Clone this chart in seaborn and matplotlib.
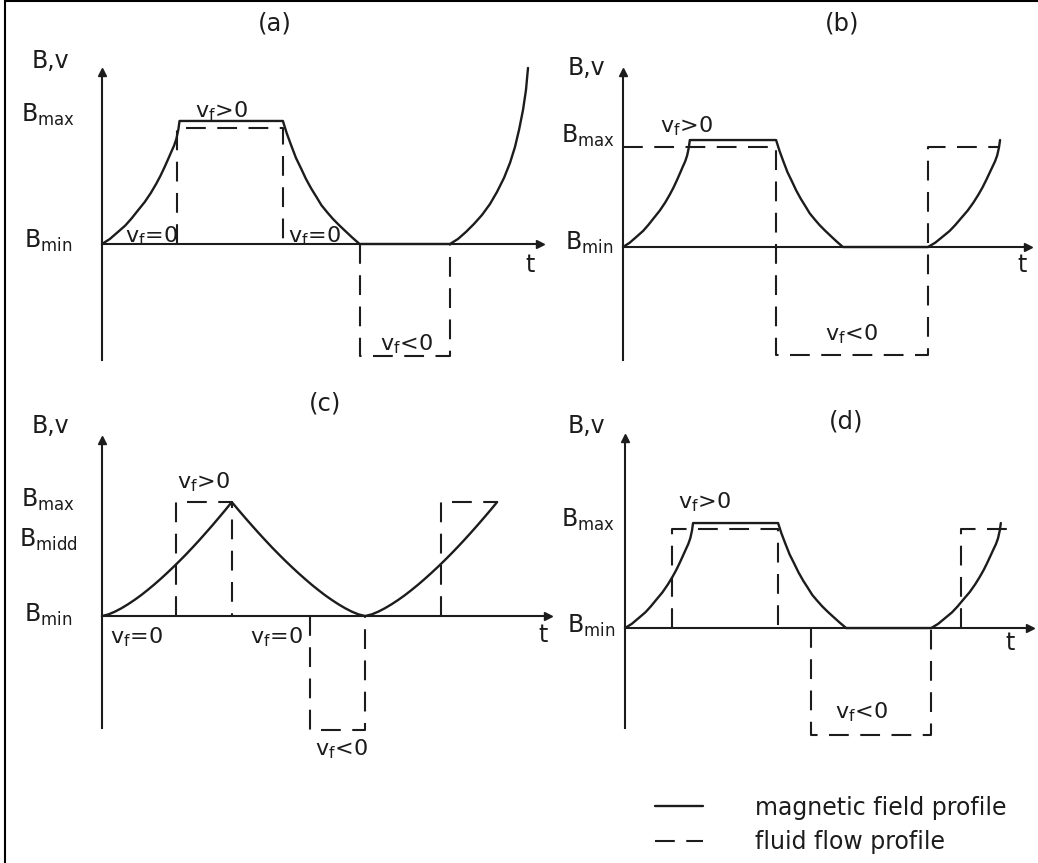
import numpy as np
import pandas as pd
import matplotlib
matplotlib.use("Agg")
import matplotlib.pyplot as plt
import seaborn as sns
from matplotlib.lines import Line2D

# ---------------- data (t in arbitrary time units, B and v normalised: Bmin = 0, Bmax = 1) ----------------
# panel (a)
a_field_t = [0, 1.77, 3.65, 5.31, 6.71, 8.14, 9.75, 11.15, 12.39, 13.36, 14.30, 15.05, 15.81, 16.46, 16.99, 17.43, 17.7,
             41.3, 42.18, 43.21, 44.28, 45.5, 46.55, 47.78, 49.0, 50.1, 51.36, 52.69, 54.08, 55.41, 57.05, 58.8,
             79.45, 81.28, 83.1, 84.93, 86.76, 88.58, 90.18, 91.78, 93.15, 94.29, 95.21, 96.12, 96.8, 97.26]
a_field_B = [0, 0.04, 0.098, 0.15, 0.206, 0.27, 0.341, 0.415, 0.49, 0.555, 0.626, 0.686, 0.748, 0.80, 0.856, 0.93, 1.0,
             1.0, 0.90, 0.80, 0.70, 0.61, 0.53, 0.45, 0.38, 0.315, 0.26, 0.205, 0.155, 0.11, 0.055, 0,
             0, 0.041, 0.098, 0.163, 0.236, 0.325, 0.423, 0.537, 0.659, 0.789, 0.927, 1.089, 1.252, 1.431]
a_flow_t = [17.1, 17.1, 41.3, 41.3, 58.9, 58.9, 79.5, 79.5]
a_flow_v = [0, 0.943, 0.943, 0, 0, -0.91, -0.91, 0]
a_flow_seg = [0, 0, 0, 0, 1, 1, 1, 1]

# panel (b)
b_field_t = [0, 1.65, 3.40, 4.95, 6.25, 7.59, 9.09, 10.40, 11.55, 12.46, 13.33, 14.03, 14.73, 15.35, 15.84, 16.25, 16.5,
             37.8, 38.63, 39.6, 40.61, 41.76, 42.75, 43.91, 45.06, 46.1, 47.29, 48.54, 49.85, 51.1, 52.65, 54.3,
             75.3, 77.08, 78.97, 80.64, 82.05, 83.49, 85.11, 86.51, 87.76, 88.74, 89.68, 90.43, 91.2, 91.85, 92.39,
             92.83, 93.1]
b_field_B = [0, 0.04, 0.098, 0.15, 0.206, 0.27, 0.341, 0.415, 0.49, 0.555, 0.626, 0.686, 0.748, 0.80, 0.856, 0.93, 1.0,
             1.0, 0.90, 0.80, 0.70, 0.61, 0.53, 0.45, 0.38, 0.315, 0.26, 0.205, 0.155, 0.11, 0.055, 0,
             0, 0.04, 0.098, 0.15, 0.206, 0.27, 0.341, 0.415, 0.49, 0.555, 0.626, 0.686, 0.748, 0.80, 0.856, 0.93, 1.0]
b_flow_t = [0, 37.8, 37.8, 75.3, 75.3, 92.6]
b_flow_v = [0.935, 0.935, -1.01, -1.01, 0.935, 0.935]
b_flow_seg = [0, 0, 0, 0, 0, 0]

# panel (c)
c_field_t = [0, 1.46, 2.91, 4.37, 5.82, 7.28, 8.73, 10.19, 11.64, 13.1, 14.55, 16.0, 17.46, 18.92, 20.37, 21.83,
             23.28, 24.74, 26.19, 27.65, 29.1,
             30.6, 32.09, 33.59, 35.08, 36.58, 38.07, 39.57, 41.06, 42.56, 44.05, 45.55, 47.04, 48.54, 50.03, 51.53,
             53.02, 54.52, 56.01, 57.51, 59.0,
             60.48, 61.96, 63.44, 64.92, 66.4, 67.88, 69.36, 70.84, 72.32, 73.8, 75.28, 76.76, 78.24, 79.72, 81.2,
             82.68, 84.16, 85.64, 87.12, 88.6]
c_field_B = [0, 0.0145, 0.0386, 0.0686, 0.103, 0.141, 0.182, 0.227, 0.274, 0.324, 0.376, 0.43, 0.486, 0.544, 0.604,
             0.666, 0.73, 0.795, 0.862, 0.93, 1.0,
             0.93, 0.862, 0.795, 0.73, 0.666, 0.604, 0.544, 0.486, 0.43, 0.376, 0.324, 0.274, 0.227, 0.182, 0.141,
             0.103, 0.0686, 0.0386, 0.0145, 0,
             0.0145, 0.0386, 0.0686, 0.103, 0.141, 0.182, 0.227, 0.274, 0.324, 0.376, 0.43, 0.486, 0.544, 0.604,
             0.666, 0.73, 0.795, 0.862, 0.93, 1.0]
c_flow_t = [16.6, 16.6, 29.1, 29.1, 46.6, 46.6, 59.0, 59.0, 76.0, 76.0, 88.6]
c_flow_v = [0, 1, 1, 0, 0, -1, -1, 0, 0, 1, 1]
c_flow_seg = [0, 0, 0, 0, 1, 1, 1, 1, 2, 2, 2]
c_B_midd = 0.63

# panel (d)
d_field_t = [0, 1.68, 3.46, 5.04, 6.37, 7.73, 9.26, 10.58, 11.76, 12.68, 13.57, 14.28, 15.0, 15.62, 16.13, 16.55, 16.8,
             37.8, 38.64, 39.63, 40.66, 41.83, 42.84, 44.02, 45.19, 46.25, 47.46, 48.74, 50.06, 51.34, 52.92, 54.6,
             75.6, 77.32, 79.14, 80.76, 82.12, 83.51, 85.08, 86.44, 87.64, 88.59, 89.5, 90.22, 90.96, 91.6, 92.11,
             92.54, 92.8]
d_field_B = [0, 0.04, 0.098, 0.15, 0.206, 0.27, 0.341, 0.415, 0.49, 0.555, 0.626, 0.686, 0.748, 0.80, 0.856, 0.93, 1.0,
             1.0, 0.90, 0.80, 0.70, 0.61, 0.53, 0.45, 0.38, 0.315, 0.26, 0.205, 0.155, 0.11, 0.055, 0,
             0, 0.04, 0.098, 0.15, 0.206, 0.27, 0.341, 0.415, 0.49, 0.555, 0.626, 0.686, 0.748, 0.80, 0.856, 0.93, 1.0]
d_flow_t = [11.6, 11.6, 37.8, 37.8, 45.9, 45.9, 75.6, 75.6, 83.0, 83.0, 96.3]
d_flow_v = [0, 0.943, 0.943, 0, 0, -1.02, -1.02, 0, 0, 0.943, 0.943]
d_flow_seg = [0, 0, 0, 0, 1, 1, 1, 1, 2, 2, 2]

legend_labels = ["magnetic field profile", "fluid flow profile"]

# ---------------- style ----------------
sns.set_style("white")
plt.rcParams["font.family"] = ["DejaVu Sans"]
INK = "#1c1c1c"
LW_SOLID = 1.7
LW_DASH = 1.5
DASH = (0, (9.5, 5.5))

W, H = 1038, 863
fig = plt.figure(figsize=(W / 100, H / 100), dpi=100)
fig.patch.set_facecolor("white")


def px_axes(x0, x1, ytop, ybot):
    return fig.add_axes([x0 / W, 1 - ybot / H, (x1 - x0) / W, (ybot - ytop) / H])


def draw_panel(ax, ft, fB, vt, vv, vs, ylim, ticks, ticklen):
    sns.lineplot(x=ft, y=fB, ax=ax, color=INK, lw=LW_SOLID, estimator=None, sort=False)
    df = pd.DataFrame({"t": vt, "v": vv, "seg": vs})
    sns.lineplot(data=df, x="t", y="v", units="seg", estimator=None, sort=False, ax=ax,
                 color=INK, lw=LW_DASH, linestyle=DASH)
    for ln in ax.lines:
        ln.set_clip_on(False)
        ln.set_solid_joinstyle("round")
    ax.set_xlim(0, 100)
    ax.set_ylim(*ylim)
    ax.patch.set_visible(False)
    for s in ["top", "right"]:
        ax.spines[s].set_visible(False)
    ax.spines["left"].set_position(("data", 0))
    ax.spines["bottom"].set_position(("data", 0))
    for s in ["left", "bottom"]:
        ax.spines[s].set_color(INK)
        ax.spines[s].set_linewidth(1.5)
    ax.set_xticks([])
    ax.set_yticks(ticks)
    ax.tick_params(axis="y", direction="inout", length=ticklen, width=1.5, color=INK,
                   labelleft=False)
    ax.set_xlabel("")
    ax.set_ylabel("")
    # arrow heads of the coordinate axes
    ax.plot([0], [1.0], marker="^", ms=6, color=INK, transform=ax.get_xaxis_transform(), clip_on=False)
    ax.plot([1.0], [0], marker=">", ms=6, color=INK, transform=ax.get_yaxis_transform(), clip_on=False)


axA = px_axes(102, 540, 72, 360)
draw_panel(axA, a_field_t, a_field_B, a_flow_t, a_flow_v, a_flow_seg, (-0.943, 1.398), [1.0], 10)
axB = px_axes(623, 1028, 72, 360)
draw_panel(axB, b_field_t, b_field_B, b_flow_t, b_flow_v, b_flow_seg, (-1.056, 1.636), [], 0)
axC = px_axes(102, 548, 440, 728)
draw_panel(axC, c_field_t, c_field_B, c_flow_t, c_flow_v, c_flow_seg, (-0.982, 1.544), [1.0, c_B_midd], 13)
axD = px_axes(625, 1030, 438, 728)
draw_panel(axD, d_field_t, d_field_B, d_flow_t, d_flow_v, d_flow_seg, (-0.952, 1.810), [], 0)


def T(px, py, s, ha="left", va="baseline", size=16):
    fig.text(px / W, 1 - py / H, s, ha=ha, va=va, fontsize=size, color=INK)


BMAX = r"$\mathregular{B_{max}}$"
BMIN = r"$\mathregular{B_{min}}$"
BMID = r"$\mathregular{B_{midd}}$"
VEQ = r"$\mathregular{v_f}$=0"
VGT = r"$\mathregular{v_f}$>0"
VLT = r"$\mathregular{v_f}$<0"

# panel (a) texts
T(75, 122, BMAX, ha="right", size=17)
T(72, 248, BMIN, ha="right", size=17)
T(50, 68, "B,v", ha="center", size=17)
T(275, 24, "(a)", ha="center", va="center", size=17.5)
T(530, 272, "t", ha="center", size=17)
T(125, 242, VEQ)
T(288, 242, VEQ)
T(195, 117, VGT)
T(380, 350, VLT)
# panel (b) texts
T(615, 143, BMAX, ha="right", size=17)
T(613, 250, BMIN, ha="right", size=17)
T(586, 75, "B,v", ha="center", size=17)
T(842, 24, "(b)", ha="center", va="center", size=17.5)
T(1022, 272, "t", ha="center", size=17)
T(660, 132, VGT)
T(825, 340, VLT)
# panel (c) texts
T(75, 507, BMAX, ha="right", size=17)
T(78, 547, BMID, ha="right", size=17)
T(72, 622, BMIN, ha="right", size=17)
T(50, 433, "B,v", ha="center", size=17)
T(325, 403, "(c)", ha="center", va="center", size=17.5)
T(543, 642, "t", ha="center", size=17)
T(110, 643, VEQ)
T(250, 643, VEQ)
T(177, 488, VGT)
T(315, 755, VLT)
# panel (d) texts
T(615, 527, BMAX, ha="right", size=17)
T(615, 633, BMIN, ha="right", size=17)
T(586, 433, "B,v", ha="center", size=17)
T(846, 422, "(d)", ha="center", va="center", size=17.5)
T(1010, 650, "t", ha="center", size=17)
T(678, 508, VGT)
T(835, 718, VLT)

# legend
handles = [Line2D([], [], color=INK, lw=LW_SOLID),
           Line2D([], [], color=INK, lw=LW_DASH, linestyle=DASH)]
fig.legend(handles, legend_labels, loc="center left", bbox_to_anchor=(655 / W, 1 - 825 / H),
           frameon=False, fontsize=17, handlelength=2.03, handletextpad=2.2, labelspacing=0.45,
           borderpad=0, borderaxespad=0, labelcolor=INK)

# outer frame (top and left edge of the original image)
fig.add_artist(Line2D([5 / W, 5 / W], [0, 1], color="black", lw=1.5, transform=fig.transFigure))
fig.add_artist(Line2D([5 / W, 1], [1 - 1.5 / H, 1 - 1.5 / H], color="black", lw=1.5, transform=fig.transFigure))

fig.savefig("out.png", dpi=100)
